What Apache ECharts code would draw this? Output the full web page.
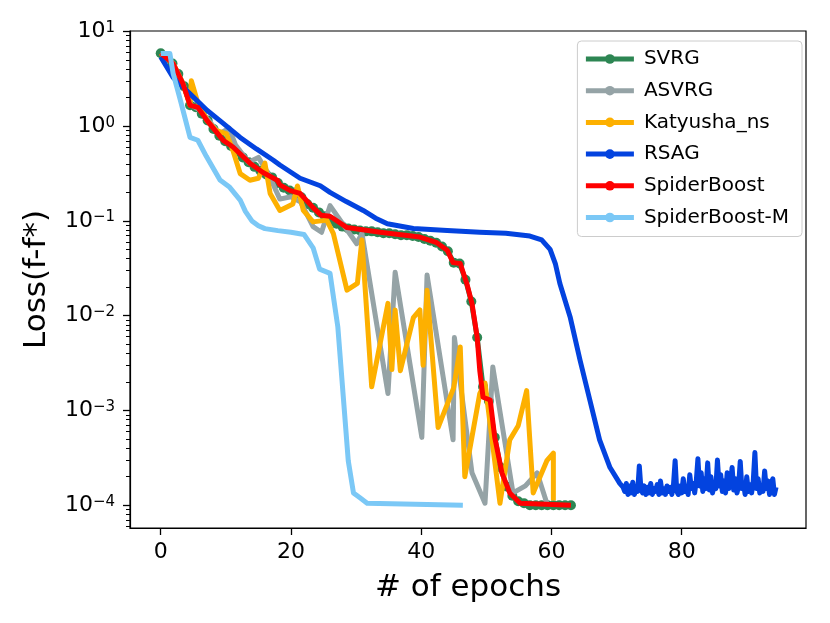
<!DOCTYPE html>
<html>
<head>
<meta charset="utf-8">
<script src="https://cdn.jsdelivr.net/npm/echarts@6.0.0/dist/echarts.min.js"></script>
<style>html,body{margin:0;padding:0;background:#fff}#main{width:830px;height:623px}</style>
</head>
<body>
<div id="main"></div>
<script>
// ---------------- data ----------------
const seriesNames = ['SVRG', 'ASVRG', 'Katyusha_ns', 'RSAG', 'SpiderBoost', 'SpiderBoost-M'];
const xTicks = [0, 20, 40, 60, 80];
const yMajorTicks = [1e-4, 1e-3, 1e-2, 1e-1, 1, 10];
const yMinorTicks = [6e-5, 7e-5, 8e-5, 9e-5,
  2e-4, 3e-4, 4e-4, 5e-4, 6e-4, 7e-4, 8e-4, 9e-4,
  2e-3, 3e-3, 4e-3, 5e-3, 6e-3, 7e-3, 8e-3, 9e-3,
  2e-2, 3e-2, 4e-2, 5e-2, 6e-2, 7e-2, 8e-2, 9e-2,
  0.2, 0.3, 0.4, 0.5, 0.6, 0.7, 0.8, 0.9,
  2, 3, 4, 5, 6, 7, 8, 9];

// SVRG: one marker per evaluation, epochs svrgStart + i*svrgStep
const svrgStart = 0, svrgStep = 0.9;
const svrgLoss = [5.89, 5.25, 4.57, 3.55, 2.63, 1.66, 1.58, 1.35, 1.15, 0.933,
  0.794, 0.692, 0.617, 0.537, 0.468, 0.417, 0.372, 0.339, 0.309, 0.288,
  0.251, 0.224, 0.209, 0.2, 0.178, 0.151, 0.138, 0.123, 0.112, 0.102,
  0.0933, 0.0871, 0.0832, 0.0813, 0.0794, 0.0776, 0.0776, 0.0759, 0.0741, 0.0741,
  0.0724, 0.0708, 0.0708, 0.0692, 0.0676, 0.0646, 0.0617, 0.0589, 0.0537, 0.0479,
  0.0363, 0.0355, 0.024, 0.0141, 0.00589, 0.00178, 0.00126, 5.2e-4, 2.5e-4, 1.58e-4,
  1.26e-4, 1.1e-4, 1.05e-4, 1e-4, 1e-4, 1e-4, 1e-4, 1e-4, 1e-4, 1e-4, 1e-4];

const asvrg = [[0, 5.89], [1.9, 4.57], [3.4, 2.82], [4.5, 1.7], [6, 1.48], [7.5, 1.12], [9, 0.83],
  [10.5, 0.955], [11.5, 0.631], [13.5, 0.417], [15, 0.468], [16.5, 0.316], [18.3, 0.17],
  [20, 0.18], [21.5, 0.158], [23.4, 0.087], [24.7, 0.0759], [26, 0.145], [30.1, 0.0575],
  [30.9, 0.0741], [34.9, 0.00151], [36, 0.0288], [40.1, 5.2e-4], [40.9, 0.0269],
  [44.9, 4.9e-4], [45.1, 0.00589], [47.8, 2.2e-4], [49.8, 1.05e-4], [51, 0.00288],
  [54.1, 1.35e-4], [56, 1.6e-4], [57.8, 2.2e-4], [59.3, 1.05e-4]];

const katyusha = [[0, 5.89], [1.9, 4.57], [3.4, 2.82], [4.5, 1.66], [4.7, 3.02], [5.6, 1.86],
  [7.1, 1.15], [8.5, 0.9], [10.1, 0.83], [11.1, 0.55], [12.2, 0.316], [13.7, 0.269],
  [15, 0.282], [16, 0.407], [16.8, 0.195], [18.3, 0.129], [20.3, 0.151], [21, 0.234],
  [21.9, 0.129], [23.4, 0.0977], [25.5, 0.102], [26.5, 0.0741], [28.6, 0.0186],
  [30.2, 0.0219], [30.9, 0.0631], [32.4, 0.00178], [34.9, 0.0135], [35.5, 0.0027],
  [36, 0.0115], [36.8, 0.00263], [38.8, 0.00955], [39.8, 0.0115], [40.3, 0.003],
  [40.9, 0.0186], [42.6, 6.6e-4], [45, 0.00174], [46, 0.00468], [46.7, 2.0e-4],
  [49, 0.00151], [49.8, 0.00195], [52.1, 1.05e-4], [53.6, 4.9e-4], [54.9, 6.9e-4],
  [56.2, 0.00162], [57.2, 1.35e-4], [59.3, 2.95e-4], [60.3, 3.55e-4], [60.3, 1.12e-4]];

const rsag = [[0, 5.37], [1.9, 3.27], [4.5, 2.19], [7.1, 1.47], [9.6, 1.07], [12.2, 0.76],
  [14.7, 0.575], [17.3, 0.437], [18.3, 0.389], [21.4, 0.282], [24.5, 0.235], [26, 0.2],
  [28.5, 0.16], [31.1, 0.129], [33, 0.107], [34.8, 0.0933], [38.8, 0.0832], [44, 0.0794],
  [49, 0.0759], [53, 0.0741], [56.7, 0.0692], [58.5, 0.0631], [59.8, 0.0501], [60.6, 0.0355],
  [61.3, 0.0219], [62.9, 0.00955], [64.4, 0.00339], [65.9, 0.00129], [67.4, 4.9e-4],
  [69, 2.5e-4], [70.5, 1.7e-4]];
// RSAG noisy plateau: epochs rsagTailStart + i*rsagTailStep
const rsagTailStart = 71, rsagTailStep = 0.25;
const rsagTailLoss = [
  1.55e-4, 1.4e-4, 1.7e-4, 1.3e-4, 1.6e-4, 1.35e-4, 1.75e-4, 1.3e-4, 1.5e-4, 1.4e-4,
  2.6e-4, 1.5e-4, 1.35e-4, 1.6e-4, 1.3e-4,
  1.55e-4, 1.35e-4, 1.7e-4, 1.3e-4, 1.5e-4, 1.4e-4, 1.65e-4, 1.3e-4, 1.8e-4, 1.35e-4,
  1.5e-4, 1.3e-4, 1.6e-4, 1.4e-4, 1.55e-4, 1.3e-4, 1.65e-4,
  2.95e-4, 1.4e-4, 1.3e-4, 1.6e-4, 1.35e-4, 1.9e-4, 1.4e-4, 1.55e-4, 1.3e-4, 2.1e-4,
  1.5e-4, 1.7e-4, 1.35e-4, 1.8e-4,
  3.1e-4, 1.6e-4, 2.2e-4, 1.4e-4, 1.9e-4, 1.5e-4,
  2.8e-4, 1.45e-4, 2.0e-4, 1.35e-4, 1.7e-4, 1.5e-4,
  3.0e-4, 1.6e-4, 2.1e-4, 1.4e-4, 1.8e-4, 1.35e-4, 2.2e-4, 1.5e-4, 1.7e-4,
  2.5e-4, 1.45e-4, 1.9e-4, 1.35e-4, 1.6e-4,
  2.9e-4, 1.5e-4, 1.7e-4, 1.3e-4, 2.0e-4, 1.4e-4, 1.65e-4, 1.35e-4, 1.8e-4,
  3.6e-4, 1.5e-4, 1.9e-4, 1.35e-4, 1.6e-4, 1.4e-4,
  2.3e-4, 1.5e-4, 1.8e-4, 1.3e-4, 1.7e-4, 1.9e-4, 1.3e-4, 1.55e-4];

const spiderBoost = [[0, 5.89], [1.9, 4.57], [3.4, 2.82], [4.5, 1.66], [5.7, 1.58], [7.1, 1.15],
  [9.6, 0.708], [11.1, 0.603], [13.7, 0.407], [15.7, 0.324], [17.9, 0.269], [18.3, 0.24],
  [19.9, 0.209], [21.4, 0.195], [23.4, 0.138], [24.6, 0.115], [26, 0.112], [28.6, 0.0851],
  [33.7, 0.0759], [39.8, 0.0676], [42.4, 0.0589], [44, 0.049], [44.9, 0.0363], [46, 0.0355],
  [47, 0.0219], [47.8, 0.0135], [48.6, 0.00589], [49, 0.00263], [49.5, 0.00138],
  [50.6, 0.00129], [51.3, 5.2e-4], [52.4, 2.2e-4], [53.6, 1.35e-4], [55.2, 1.05e-4], [63, 1e-4]];

const spiderBoostM = [[0, 5.86], [1.4, 5.86], [1.9, 3.6], [3, 1.9], [4.5, 0.76], [5.7, 0.71],
  [7, 0.48], [9.1, 0.27], [10.6, 0.226], [12.2, 0.166], [13, 0.126], [14, 0.1], [15, 0.089],
  [16, 0.083], [18, 0.079], [20, 0.076], [22, 0.072], [23.4, 0.052], [24.4, 0.031],
  [26, 0.028], [26.6, 0.0145], [27.2, 0.0076], [28, 0.0015], [28.8, 2.95e-4],
  [29.6, 1.35e-4], [30.6, 1.2e-4], [31.7, 1.05e-4], [46.4, 1.0e-4]];

const colors = ['#2d8653', '#95a3a6', '#fdb000', '#0343df', '#ff0000', '#7bc8f6'];

// ---------------- build ----------------
const FONT = 'DejaVu Sans';
const svrgData = svrgLoss.map((v, i) => [svrgStart + i * svrgStep, v]);
const rsagData = rsag.concat(rsagTailLoss.map((v, i) => [rsagTailStart + i * rsagTailStep, v]));
const allData = [svrgData, asvrg, katyusha, rsagData, spiderBoost, spiderBoostM];

const series = seriesNames.map((name, k) => ({
  name: name,
  type: 'line',
  data: allData[k],
  xAxisIndex: 0,
  yAxisIndex: 0,
  symbol: k === 0 ? 'circle' : 'none',
  symbolSize: 10,
  showSymbol: k === 0,
  itemStyle: { color: colors[k] },
  lineStyle: { color: colors[k], width: 5, join: 'round', cap: 'butt' },
  z: 2 + k,
  animation: false,
  silent: true
}));
series.push({ name: '_minor', type: 'line', data: [], xAxisIndex: 0, yAxisIndex: 1, symbol: 'none', silent: true });

function supLabel(v) {
  const e = Math.round(Math.log10(v));
  const s = e < 0 ? '\u2212' + Math.abs(e) : String(e);
  return '{b|10}{s|' + s + '}';
}

const yMin = Math.pow(10, -4.24), yMax = Math.pow(10, 1.004);

const option = {
  animation: false,
  backgroundColor: '#ffffff',
  color: colors,
  grid: { left: 130, right: 24, top: 31, bottom: 95, show: true, borderColor: '#000', borderWidth: 1.2, backgroundColor: 'transparent' },
  xAxis: [{
    type: 'value', min: -4.72, max: 99.1, position: 'bottom',
    splitLine: { show: false },
    axisLine: { show: true, onZero: false, lineStyle: { color: '#000', width: 1.2 } },
    axisTick: { show: true, customValues: xTicks, length: 7, lineStyle: { color: '#000', width: 1.3 } },
    axisLabel: { customValues: xTicks, fontSize: 22, color: '#000', fontFamily: FONT, margin: 13 },
    name: '# of epochs', nameLocation: 'middle', nameGap: 44,
    nameTextStyle: { fontSize: 31, color: '#000', fontFamily: FONT, verticalAlign: 'top' }
  }],
  yAxis: [{
    type: 'log', logBase: 10, min: yMin, max: yMax, position: 'left',
    splitLine: { show: false },
    axisLine: { show: true, onZero: false, lineStyle: { color: '#000', width: 1.2 } },
    axisTick: { show: true, customValues: yMajorTicks, length: 7, lineStyle: { color: '#000', width: 1.3 } },
    axisLabel: {
      customValues: yMajorTicks, margin: 15, color: '#000',
      formatter: supLabel,
      rich: {
        b: { fontSize: 22, fontFamily: FONT, color: '#000', lineHeight: 22 },
        s: { fontSize: 15, fontFamily: FONT, color: '#000', lineHeight: 15, verticalAlign: 'top' }
      }
    },
    name: 'Loss(f-f*)', nameLocation: 'middle', nameGap: 78,
    nameTextStyle: { fontSize: 31, color: '#000', fontFamily: FONT }
  }, {
    type: 'log', logBase: 10, min: yMin, max: yMax, position: 'left', offset: 0,
    splitLine: { show: false },
    axisLine: { show: false, onZero: false },
    axisTick: { show: true, customValues: yMinorTicks, length: 4, lineStyle: { color: '#000', width: 1 } },
    axisLabel: { show: false }
  }],
  legend: {
    data: seriesNames,
    orient: 'vertical',
    right: 28, top: 41,
    itemWidth: 48, itemHeight: 12, itemGap: 11.7,
    lineStyle: { width: 'inherit' },
    textStyle: { fontSize: 20, color: '#000', fontFamily: FONT, padding: [0, 0, 0, 5] },
    backgroundColor: 'rgba(255,255,255,0.8)',
    borderColor: '#cccccc', borderWidth: 1, borderRadius: 4,
    padding: [8, 13, 9, 6],
    selectedMode: false
  },
  series: series
};

const chart = echarts.init(document.getElementById('main'), null, { renderer: 'canvas' });
chart.setOption(option);
</script>
</body>
</html>
